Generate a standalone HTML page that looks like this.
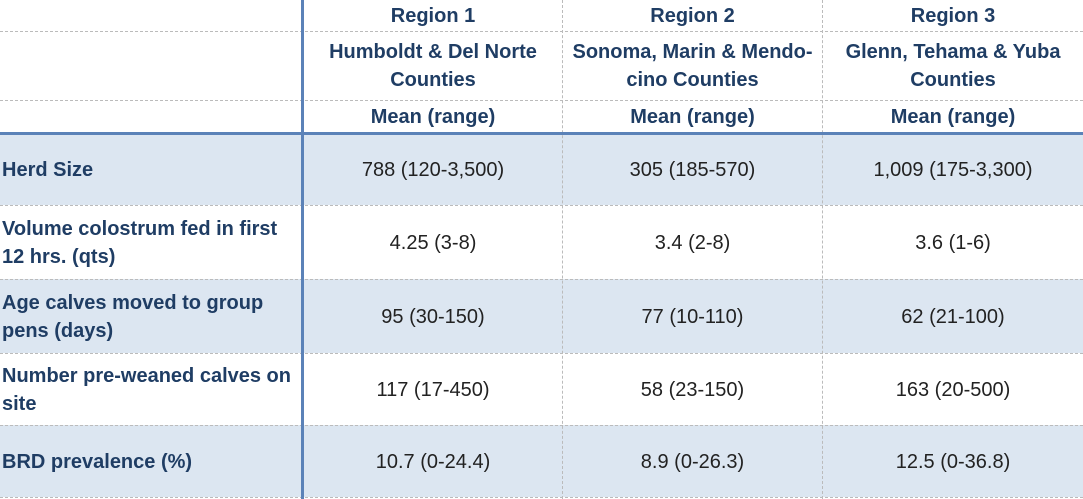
<!DOCTYPE html>
<html><head><style>
body{margin:0;width:1083px;height:499px;background:#fff;position:relative;overflow:hidden;font-family:"Liberation Sans",sans-serif}
.r{position:absolute;left:0;width:1083px}
.s{background:#dce6f1}
.h{position:absolute;left:0;width:1083px;border-top:1px dashed #bbb;height:0}
.v{position:absolute;top:0;height:499px;border-left:1px dashed #bbb;width:0}
.t{position:absolute;display:flex;align-items:center;justify-content:center;text-align:center;line-height:28px;white-space:nowrap}
.hd{color:#1f3d64;font-weight:bold;font-size:20px}
.d{color:#222;font-size:20px}
.l{justify-content:flex-start;text-align:left;color:#1f3d64;font-weight:bold;font-size:20px;padding-left:2px}
</style></head><body>
<div class="r s" style="top:134px;height:71px"></div>
<div class="r s" style="top:279px;height:74px"></div>
<div class="r s" style="top:425px;height:72px"></div>
<div class="h" style="top:31px"></div>
<div class="h" style="top:100px"></div>
<div class="h" style="top:205px"></div>
<div class="h" style="top:279px"></div>
<div class="h" style="top:353px"></div>
<div class="h" style="top:425px"></div>
<div class="h" style="top:497px"></div>
<div class="v" style="left:562px"></div>
<div class="v" style="left:822px"></div>
<div style="position:absolute;left:0;top:132px;width:1083px;height:3px;background:#5b82b8"></div>
<div style="position:absolute;left:301px;top:0;width:3px;height:499px;background:#5b82b8"></div>

<div class="t hd" style="left:304px;width:258px;top:0;height:32px">Region 1</div>
<div class="t hd" style="left:563px;width:259px;top:0;height:32px">Region 2</div>
<div class="t hd" style="left:823px;width:260px;top:0;height:32px">Region 3</div>
<div class="t hd" style="left:304px;width:258px;top:32px;height:68px">Humboldt &amp; Del Norte<br>Counties</div>
<div class="t hd" style="left:563px;width:259px;top:32px;height:68px">Sonoma, Marin &amp; Mendo-<br>cino Counties</div>
<div class="t hd" style="left:823px;width:260px;top:32px;height:68px">Glenn, Tehama &amp; Yuba<br>Counties</div>
<div class="t hd" style="left:304px;width:258px;top:101px;height:32px">Mean (range)</div>
<div class="t hd" style="left:563px;width:259px;top:101px;height:32px">Mean (range)</div>
<div class="t hd" style="left:823px;width:260px;top:101px;height:32px">Mean (range)</div>

<div class="t l" style="left:0;width:298px;top:135px;height:70px">Herd Size</div>
<div class="t l" style="left:0;width:298px;top:206px;height:73px">Volume colostrum fed in first<br>12 hrs. (qts)</div>
<div class="t l" style="left:0;width:298px;top:280px;height:73px">Age calves moved to group<br>pens (days)</div>
<div class="t l" style="left:0;width:298px;top:354px;height:71px">Number pre-weaned calves on<br>site</div>
<div class="t l" style="left:0;width:298px;top:426px;height:71px">BRD prevalence (%)</div>

<div class="t d" style="left:304px;width:258px;top:135px;height:70px">788 (120-3,500)</div>
<div class="t d" style="left:563px;width:259px;top:135px;height:70px">305 (185-570)</div>
<div class="t d" style="left:823px;width:260px;top:135px;height:70px">1,009 (175-3,300)</div>
<div class="t d" style="left:304px;width:258px;top:206px;height:73px">4.25 (3-8)</div>
<div class="t d" style="left:563px;width:259px;top:206px;height:73px">3.4 (2-8)</div>
<div class="t d" style="left:823px;width:260px;top:206px;height:73px">3.6 (1-6)</div>
<div class="t d" style="left:304px;width:258px;top:280px;height:73px">95 (30-150)</div>
<div class="t d" style="left:563px;width:259px;top:280px;height:73px">77 (10-110)</div>
<div class="t d" style="left:823px;width:260px;top:280px;height:73px">62 (21-100)</div>
<div class="t d" style="left:304px;width:258px;top:354px;height:71px">117 (17-450)</div>
<div class="t d" style="left:563px;width:259px;top:354px;height:71px">58 (23-150)</div>
<div class="t d" style="left:823px;width:260px;top:354px;height:71px">163 (20-500)</div>
<div class="t d" style="left:304px;width:258px;top:426px;height:71px">10.7 (0-24.4)</div>
<div class="t d" style="left:563px;width:259px;top:426px;height:71px">8.9 (0-26.3)</div>
<div class="t d" style="left:823px;width:260px;top:426px;height:71px">12.5 (0-36.8)</div>
</body></html>
